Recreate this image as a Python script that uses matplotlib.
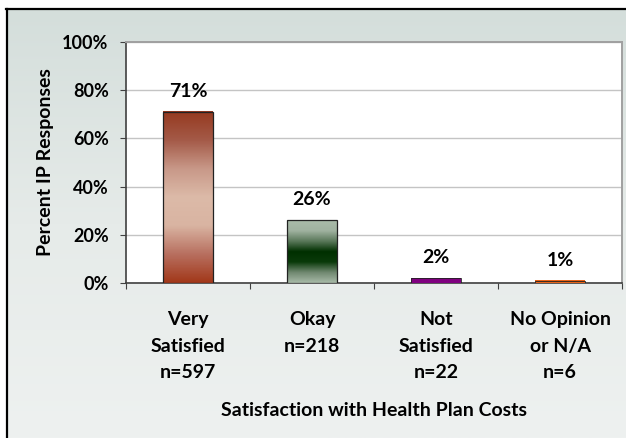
import numpy as np
import matplotlib
matplotlib.use("Agg")
import matplotlib.pyplot as plt
from matplotlib.colors import LinearSegmentedColormap
from matplotlib.patches import Rectangle
from matplotlib.lines import Line2D

categories = ["Very\nSatisfied\nn=597", "Okay\nn=218", "Not\nSatisfied\nn=22", "No Opinion\nor N/A\nn=6"]
values = [71, 26, 2, 1]
value_labels = ["71%", "26%", "2%", "1%"]
yticks = [0, 20, 40, 60, 80, 100]

# vertical colour ramps for each bar, listed bottom to top
bar_ramps = [
    ["#a2381a", "#b87060", "#d9b4a2", "#dcbaa8", "#c89888", "#a45a48", "#963a20"],
    ["#a8baa8", "#708870", "#0a3a0a", "#003000", "#5a785a", "#a0b2a0", "#a9bba9"],
    ["#800080", "#800080"],
    ["#e8641a", "#e8641a"],
]

plt.rcParams['font.family'] = ['Lato', 'DejaVu Sans']
plt.rcParams['font.weight'] = 'bold'
fs = 14

W, H = 626, 438
fig = plt.figure(figsize=(W / 100, H / 100), dpi=100)
fig.patch.set_facecolor("white")

# panel background with soft vertical gradient
bg = fig.add_axes([6 / W, 0, (W - 6) / W, (H - 9) / H])
bg_cmap = LinearSegmentedColormap.from_list("bg", ["#eef1f0", "#e6ebe9", "#d4dedb"])
bg.imshow(np.linspace(0, 1, 256)[:, None], aspect="auto", cmap=bg_cmap,
          origin="lower", extent=[0, 1, 0, 1])
bg.set_axis_off()
fig.add_artist(Line2D([6.5 / W, 6.5 / W], [0, (H - 8.5) / H], color="black", lw=1.6))
fig.add_artist(Line2D([6 / W, 1], [(H - 9) / H, (H - 9) / H], color="black", lw=1.6))

ax = fig.add_axes([126 / W, (H - 283) / H, (622 - 126) / W, (283 - 42) / H])
ax.set_facecolor("white")
x = np.arange(len(values))
bw = 0.4

for i, (v, ramp) in enumerate(zip(values, bar_ramps)):
    cmap = LinearSegmentedColormap.from_list(f"bar{i}", ramp)
    ext = [x[i] - bw / 2, x[i] + bw / 2, 0, v]
    ax.imshow(np.linspace(0, 1, 200)[:, None], aspect="auto", cmap=cmap,
              origin="lower", extent=ext, zorder=3)
    ax.add_patch(Rectangle((x[i] - bw / 2, 0), bw, v, fill=False,
                           edgecolor="#222222", lw=0.9 if v > 5 else 0.6, zorder=4))
    ax.text(x[i], v + 5, value_labels[i], ha="center", va="bottom",
            fontsize=fs, fontweight="bold", zorder=5)

ax.set_xlim(-0.5, len(values) - 0.5)
ax.set_ylim(0, 100)
ax.set_yticks(yticks)
ax.set_yticklabels([f"{t}%" for t in yticks], fontsize=13, fontweight="bold")
ax.yaxis.grid(True, color="#c4c4c4", lw=1)
ax.set_axisbelow(True)

ax.set_xticks(np.arange(len(values) + 1) - 0.5)
ax.set_xticklabels([])
ax.set_xticks(x, minor=True)
ax.set_xticklabels(categories, minor=True, fontsize=fs, fontweight="bold",
                   linespacing=1.65, va="top")
ax.tick_params(axis="x", which="major", length=4.5, direction="out", color="#404040")
ax.tick_params(axis="x", which="minor", length=0, pad=20.5)
ax.tick_params(axis="y", length=4.5, direction="out", color="#404040", pad=8)

for s in ["left", "bottom"]:
    ax.spines[s].set_color("#404040")
    ax.spines[s].set_linewidth(1.2)
for s in ["top", "right"]:
    ax.spines[s].set_color("#a0a0a0")
    ax.spines[s].set_linewidth(1.4)

ax.set_ylabel("Percent IP Responses", fontsize=fs, fontweight="bold", labelpad=6)
fig.text(374 / W, 1 - 410 / H, "Satisfaction with Health Plan Costs",
         ha="center", va="center", fontsize=fs, fontweight="bold")

fig.savefig("out.png", dpi=100)
